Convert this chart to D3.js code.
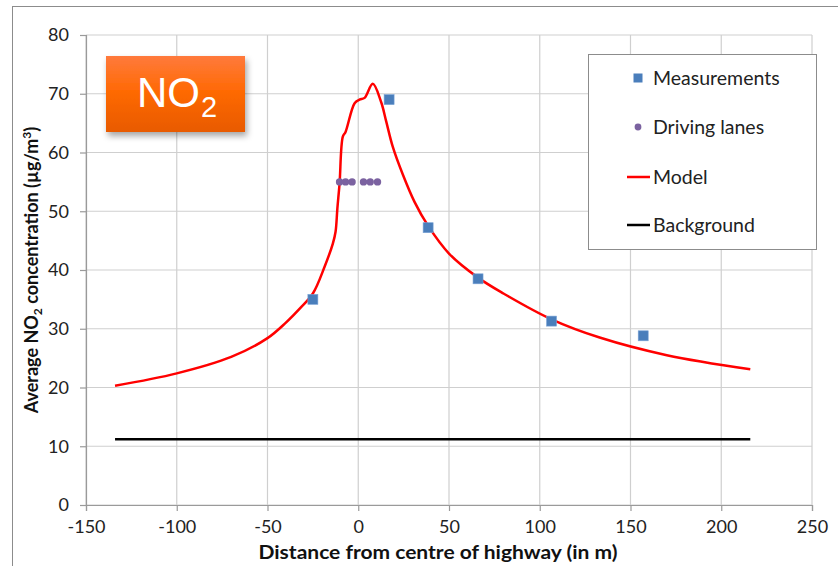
<!DOCTYPE html>
<html>
<head>
<meta charset="utf-8">
<script src="https://cdn.jsdelivr.net/npm/d3@7"></script>
<style>
html,body{margin:0;padding:0;background:#fff;}
svg{display:block;}
</style>
</head>
<body>
<svg id="chart" width="838" height="566"></svg>
<script>
// ---- Data ----
const xTicks = [-150, -100, -50, 0, 50, 100, 150, 200, 250];
const yTicks = [0, 10, 20, 30, 40, 50, 60, 70, 80];

const measurementsX = [-25, 17, 38.5, 66, 106.5, 157];
const measurementsY = [35, 69, 47.2, 38.5, 31.3, 28.8];

const lanesX = [-10.3, -7, -3.4, 2.9, 6.6, 10.6];
const lanesY = [55, 55, 55, 55, 55, 55];

const modelX = [-134, -100, -70, -50, -40, -32, -25, -18.5, -14, -12.5, -11.5, -10.3, -8.5, -7, -2, 0.7, 3.5, 8, 12.6, 15.4, 19, 24.5, 31, 38.5, 50, 66, 80, 106.5, 133, 170, 216];
const modelY = [20.3, 22.4, 25.2, 28.4, 31.0, 33.5, 36.0, 40.6, 44.5, 46.5, 50.5, 54.7, 62.7, 63.5, 68.4, 69.0, 69.3, 71.7, 68.6, 65.3, 61, 56.3, 51.6, 47.5, 42.8, 38.7, 36.0, 31.6, 28.5, 25.5, 23.1];

const backgroundX = [-134, 216];
const backgroundY = [11.2, 11.2];

const legendLabels = ["Measurements", "Driving lanes", "Model", "Background"];

// ---- Layout ----
const svg = d3.select("#chart");
const L = 86, R = 812, T = 35, B = 505;
const font = "Lato, 'Open Sans', sans-serif";

const x = d3.scaleLinear().domain([-150, 250]).range([L, R]);
const y = d3.scaleLinear().domain([0, 80]).range([B, T]);

// chart frame
svg.append("rect").attr("x", 12.5).attr("y", 6.5).attr("width", 900).attr("height", 700)
  .attr("fill", "#fff").attr("stroke", "#8c8c8c").attr("stroke-width", 1);

// gridlines
svg.append("g").selectAll("line").data(xTicks).join("line")
  .attr("x1", d => x(d)).attr("x2", d => x(d)).attr("y1", T).attr("y2", B)
  .attr("stroke", "#cfcfcf").attr("stroke-width", 1.2);
svg.append("g").selectAll("line").data(yTicks).join("line")
  .attr("x1", L).attr("x2", R).attr("y1", d => y(d)).attr("y2", d => y(d))
  .attr("stroke", "#cfcfcf").attr("stroke-width", 1.2);

// axes
const xAxis = d3.axisBottom(x).tickValues(xTicks).tickSize(6).tickPadding(9).tickFormat(d3.format("d"));
const yAxis = d3.axisLeft(y).tickValues(yTicks).tickSize(6).tickPadding(11);
const gx = svg.append("g").attr("transform", `translate(0,${B})`).call(xAxis);
const gy = svg.append("g").attr("transform", `translate(${L},0)`).call(yAxis);
[gx, gy].forEach(g => {
  g.select(".domain").attr("stroke", "#9a9a9a").attr("stroke-width", 1.2);
  g.selectAll(".tick line").attr("stroke", "#9a9a9a").attr("stroke-width", 1.2);
  g.selectAll(".tick text").attr("font-family", font).attr("font-size", 18).attr("fill", "#222");
});
gx.selectAll(".tick text").text(d => d < 0 ? "-" + Math.abs(d) : d);

// axis titles
svg.append("text").attr("x", 438).attr("y", 559).attr("text-anchor", "middle")
  .attr("font-family", font).attr("font-size", 19.5).attr("font-weight", "bold").attr("fill", "#111")
  .attr("textLength", 359).attr("lengthAdjust", "spacingAndGlyphs")
  .text("Distance from centre of highway (in m)");
const yt = svg.append("text").attr("transform", "translate(38,270) rotate(-90)").attr("text-anchor", "middle")
  .attr("font-family", font).attr("font-size", 18).attr("font-weight", "bold").attr("fill", "#111");
yt.append("tspan").text("Average NO");
yt.append("tspan").attr("font-size", 12).attr("dy", 4).text("2");
yt.append("tspan").attr("dy", -4).text(" concentration (µg/m");
yt.append("tspan").attr("font-size", 12).attr("dy", -7).text("3");
yt.append("tspan").attr("dy", 7).text(")");

// background line
const line = d3.line().x(d => x(d[0])).y(d => y(d[1]));
svg.append("path").datum(d3.zip(backgroundX, backgroundY)).attr("d", line)
  .attr("fill", "none").attr("stroke", "#000").attr("stroke-width", 2.5);

// model line
svg.append("path").datum(d3.zip(modelX, modelY))
  .attr("d", d3.line().x(d => x(d[0])).y(d => y(d[1])).curve(d3.curveCatmullRom.alpha(0.5)))
  .attr("fill", "none").attr("stroke", "#ff0000").attr("stroke-width", 2.5).attr("stroke-linejoin", "round");

// driving lanes
svg.append("g").selectAll("circle").data(d3.zip(lanesX, lanesY)).join("circle")
  .attr("cx", d => x(d[0])).attr("cy", d => y(d[1])).attr("r", 3.7).attr("fill", "#7b62a0");

// measurements
const ms = 10;
svg.append("g").selectAll("rect").data(d3.zip(measurementsX, measurementsY)).join("rect")
  .attr("x", d => x(d[0]) - ms / 2).attr("y", d => y(d[1]) - ms / 2).attr("width", ms).attr("height", ms)
  .attr("fill", "#4a7ebb").attr("stroke", "#7aa3d6").attr("stroke-width", 0.6);

// NO2 box
const defs = svg.append("defs");
const grad = defs.append("linearGradient").attr("id", "og").attr("x1", 0).attr("y1", 0).attr("x2", 0).attr("y2", 1);
grad.append("stop").attr("offset", "0%").attr("stop-color", "#ff7a3c");
grad.append("stop").attr("offset", "45%").attr("stop-color", "#ff6a06");
grad.append("stop").attr("offset", "100%").attr("stop-color", "#e85a02");
const flt = defs.append("filter").attr("id", "sh").attr("x", "-20%").attr("y", "-20%").attr("width", "150%").attr("height", "160%");
flt.append("feDropShadow").attr("dx", 2).attr("dy", 4).attr("stdDeviation", 3).attr("flood-color", "#000").attr("flood-opacity", 0.35);
svg.append("rect").attr("x", 106).attr("y", 56).attr("width", 139).attr("height", 76)
  .attr("fill", "url(#og)").attr("filter", "url(#sh)");
const nt = svg.append("text").attr("x", 137).attr("y", 107)
  .attr("font-family", "'Liberation Sans', Arial, sans-serif").attr("font-size", 42).attr("fill", "#fff");
nt.append("tspan").text("NO");
nt.append("tspan").attr("font-size", 29).attr("dy", 10).attr("dx", 1).text("2");

// legend
svg.append("rect").attr("x", 588.5).attr("y", 54.5).attr("width", 228).attr("height", 195)
  .attr("fill", "#fff").attr("stroke", "#8c8c8c").attr("stroke-width", 1);
const rows = [78, 127, 177, 225];
const lg = svg.append("g");
lg.append("rect").attr("x", 638 - 4.5).attr("y", rows[0] - 4.5).attr("width", 9).attr("height", 9).attr("fill", "#4a7ebb");
lg.append("circle").attr("cx", 638).attr("cy", rows[1]).attr("r", 3.4).attr("fill", "#7b62a0");
lg.append("line").attr("x1", 627).attr("x2", 650).attr("y1", rows[2]).attr("y2", rows[2]).attr("stroke", "#ff0000").attr("stroke-width", 2.5);
lg.append("line").attr("x1", 627).attr("x2", 650).attr("y1", rows[3]).attr("y2", rows[3]).attr("stroke", "#000").attr("stroke-width", 2.5);
lg.selectAll("text").data(legendLabels).join("text")
  .attr("x", 653).attr("y", (d, i) => rows[i]).attr("dy", "0.35em")
  .attr("font-family", font).attr("font-size", 19.5).attr("fill", "#222").text(d => d);
</script>
</body>
</html>
